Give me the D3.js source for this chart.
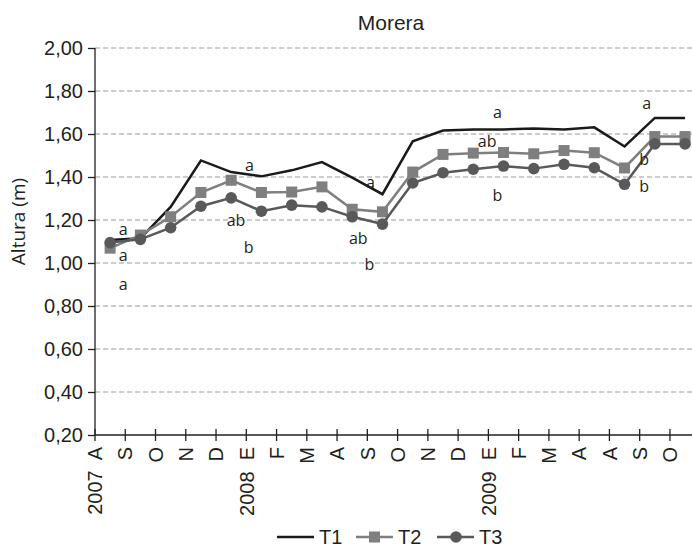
<!DOCTYPE html>
<html>
<head>
<meta charset="utf-8">
<script src="https://cdn.jsdelivr.net/npm/d3@7"></script>
<style>
  body { margin: 0; background: #fff; }
  svg { display: block; }
</style>
</head>
<body>
<svg id="drawing_region"></svg>
<script>
// month labels on the x axis
const months = ["2007  A","S","O","N","D","2008  E","F","M","A","S","O","N","D","2009  E","F","M","A","A","S","O"];
// heights (m) per treatment
const t1 = [1.107, 1.115, 1.261, 1.477, 1.423, 1.403, 1.431, 1.469, 1.397, 1.320, 1.566, 1.616, 1.621, 1.621, 1.625, 1.621, 1.631, 1.542, 1.675, 1.675];
const t2 = [1.069, 1.130, 1.215, 1.328, 1.385, 1.328, 1.330, 1.354, 1.250, 1.238, 1.423, 1.505, 1.511, 1.514, 1.508, 1.523, 1.513, 1.442, 1.588, 1.588];
const t3 = [1.095, 1.110, 1.164, 1.264, 1.303, 1.241, 1.269, 1.261, 1.215, 1.181, 1.372, 1.420, 1.436, 1.451, 1.439, 1.459, 1.443, 1.366, 1.554, 1.554];
const yTicks = [0.2, 0.4, 0.6, 0.8, 1.0, 1.2, 1.4, 1.6, 1.8, 2.0];
// significance letters (position in month index, height)
const annotText = ["a","a","a","a","ab","b","a","ab","b","a","ab","b","a","b","b"];
const annotPos  = [0.43, 0.43, 0.43, 4.6, 4.16, 4.58, 8.6, 8.2, 8.57, 12.8, 12.46, 12.8, 17.73, 17.65, 17.65];
const annotVal  = [1.153, 1.030, 0.899, 1.449, 1.195, 1.070, 1.369, 1.112, 0.991, 1.695, 1.562, 1.311, 1.737, 1.477, 1.352];

const W = 692, H = 550;
const mLeft = 95, mTop = 48, mBottom = 435, bandW = 30.26;
const axisFont = "'Liberation Sans', Arial, Helvetica, sans-serif";
const letterFont = "'Open Sans', 'DejaVu Sans', sans-serif";

const svg = d3.select("#drawing_region").attr("width", W).attr("height", H);

const idx = d3.range(months.length);
const x = d3.scaleBand().domain(idx).range([mLeft, mLeft + bandW * months.length]).paddingInner(0).paddingOuter(0);
const cx = i => x(i) + x.bandwidth() / 2;
const y = d3.scaleLinear().domain([0.2, 2.0]).range([mBottom, mTop]);
const fx = d3.scaleLinear().domain([0, 1]).range([cx(0), cx(1)]);

// grid
svg.append("g").selectAll("line")
  .data(yTicks.filter(d => d > 0.2))
  .join("line")
  .attr("x1", mLeft).attr("x2", W)
  .attr("y1", d => y(d)).attr("y2", d => y(d))
  .attr("stroke", "#9a9a9a").attr("stroke-width", 1.2)
  .attr("stroke-dasharray", "5,3");

// y axis
const yAxis = d3.axisLeft(y).tickValues(yTicks).tickSize(7).tickPadding(5)
  .tickFormat(d => d3.format(".2f")(d).replace(".", ","));
const yg = svg.append("g").attr("transform", `translate(${mLeft},0)`).call(yAxis);
yg.select(".domain").remove();
yg.append("line").attr("x1", 0).attr("x2", 0).attr("y1", y(2.0)).attr("y2", y(0.2))
  .attr("stroke", "#231f20").attr("stroke-width", 1.3);
yg.selectAll(".tick line").attr("stroke", "#231f20").attr("stroke-width", 1.3);
yg.selectAll(".tick text").attr("font-family", axisFont).attr("font-size", 20).attr("fill", "#231f20");

// x axis: ticks on band edges, labels at ticks
const xg = svg.append("g").attr("transform", `translate(0,${mBottom})`);
xg.append("line").attr("x1", mLeft).attr("x2", mLeft + bandW * months.length)
  .attr("stroke", "#231f20").attr("stroke-width", 1.3);
const xt = xg.selectAll("g.xtick").data(idx.concat([months.length])).join("g")
  .attr("class", "xtick")
  .attr("transform", i => `translate(${i < months.length ? x(i) : x(months.length - 1) + bandW},0)`);
xt.append("line").attr("y1", -6).attr("y2", 6).attr("stroke", "#231f20").attr("stroke-width", 1.3);
xt.filter(i => i < months.length).append("text")
  .attr("transform", "rotate(-90)")
  .attr("x", -12).attr("dy", "0.36em")
  .attr("text-anchor", "end")
  .style("white-space", "pre")
  .attr("font-family", axisFont).attr("font-size", 20).attr("fill", "#231f20")
  .text(i => months[i]);

// lines
const line = arr => d3.line().x((d, i) => cx(i)).y(d => y(d))(arr);
svg.append("path").attr("d", line(t1)).attr("fill", "none").attr("stroke", "#1a1a1a").attr("stroke-width", 2.5);
svg.append("path").attr("d", line(t2)).attr("fill", "none").attr("stroke", "#7f7f7f").attr("stroke-width", 2.5);
svg.append("g").selectAll("rect").data(t2).join("rect")
  .attr("x", (d, i) => cx(i) - 5.5).attr("y", d => y(d) - 5.5)
  .attr("width", 11).attr("height", 11).attr("fill", "#7f7f7f");
svg.append("path").attr("d", line(t3)).attr("fill", "none").attr("stroke", "#58595b").attr("stroke-width", 2.5);
svg.append("g").selectAll("circle").data(t3).join("circle")
  .attr("cx", (d, i) => cx(i)).attr("cy", d => y(d)).attr("r", 5.8).attr("fill", "#58595b");

// significance letters
svg.append("g").selectAll("text").data(annotText).join("text")
  .attr("x", (d, i) => fx(annotPos[i])).attr("y", (d, i) => y(annotVal[i]))
  .attr("dy", "0.3em").attr("text-anchor", "middle")
  .attr("font-family", letterFont).attr("font-size", 16).attr("fill", "#231f20")
  .text(d => d);

// title and y label
svg.append("text").attr("x", 391).attr("y", 30).attr("text-anchor", "middle")
  .attr("font-family", axisFont).attr("font-size", 21).attr("fill", "#231f20").text("Morera");
svg.append("text").attr("transform", `translate(25,${(mTop + mBottom) / 2 - 20}) rotate(-90)`)
  .attr("text-anchor", "middle")
  .attr("font-family", letterFont).attr("font-size", 19).attr("fill", "#231f20").text("Altura (m)");

// legend
const legend = svg.append("g").attr("transform", "translate(0,537)");
const items = [
  {name: "T1", color: "#1a1a1a", mark: null, x0: 277},
  {name: "T2", color: "#7f7f7f", mark: "square", x0: 356},
  {name: "T3", color: "#58595b", mark: "circle", x0: 437}
];
items.forEach(it => {
  const g = legend.append("g").attr("transform", `translate(${it.x0},0)`);
  g.append("line").attr("x1", 0).attr("x2", 37).attr("stroke", it.color).attr("stroke-width", 2.5);
  if (it.mark === "square") g.append("rect").attr("x", 13).attr("y", -5.5).attr("width", 11).attr("height", 11).attr("fill", it.color);
  if (it.mark === "circle") g.append("circle").attr("cx", 19).attr("cy", 0).attr("r", 5.8).attr("fill", it.color);
  g.append("text").attr("x", 42).attr("y", 0).attr("dy", "0.36em")
    .attr("font-family", axisFont).attr("font-size", 20).attr("fill", "#231f20").text(it.name);
});
</script>
</body>
</html>
